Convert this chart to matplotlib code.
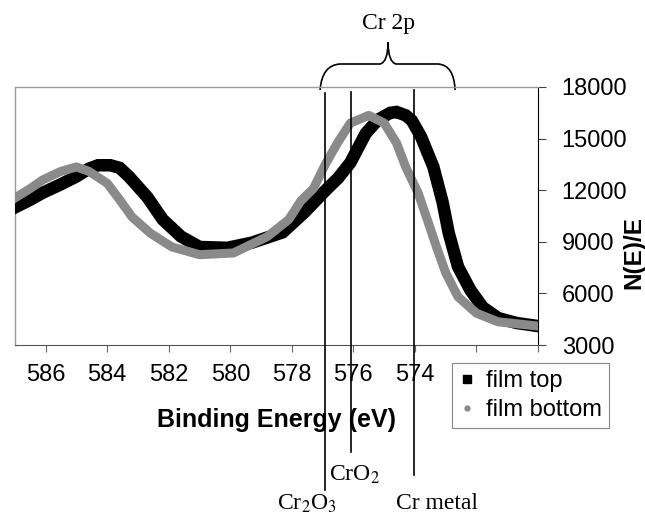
import numpy as np
import matplotlib
matplotlib.use('Agg')
import matplotlib.pyplot as plt
from matplotlib.lines import Line2D
from matplotlib.path import Path
from matplotlib.patches import PathPatch
import matplotlib.transforms as mtransforms

plt.rcParams['font.family'] = ['Liberation Sans', 'DejaVu Sans']
plt.rcParams['mathtext.fontset'] = 'stix'

# film top (black squares)
top_energy = [587.0, 586.5, 586.1, 585.5, 585.0, 584.6, 584.3, 583.9, 583.6, 583.3,
              583.0, 582.7, 582.2, 581.6, 581.0, 580.1, 579.3, 578.3, 577.6, 576.9,
              576.5, 576.1, 575.6, 575.2, 574.8, 574.6, 574.3, 574.1, 573.8, 573.4,
              573.1, 572.9, 572.6, 572.2, 571.8, 571.3, 570.7, 570.0]
top_counts = [11000, 11450, 11850, 12350, 12800, 13250, 13450, 13450, 13300, 12800,
              12200, 11600, 10300, 9300, 8700, 8650, 8950, 9550, 10700, 12000,
              12700, 13600, 15300, 16100, 16500, 16550, 16350, 16050, 15100, 13350,
              11300, 9500, 7550, 6200, 5200, 4570, 4280, 4100]

# film bottom (grey dots)
bottom_energy = [587.0, 586.5, 586.1, 585.5, 585.0, 584.6, 584.0, 583.6, 583.2, 582.6,
                 581.9, 581.0, 579.9, 578.8, 578.1, 577.7, 577.3, 576.9, 576.5, 576.1,
                 575.5, 575.0, 574.6, 574.3, 573.9, 573.6, 573.3, 573.0, 572.6, 572.0,
                 571.3, 570.0]
bottom_counts = [11550, 12100, 12600, 13100, 13350, 13100, 12400, 11450, 10450, 9500,
                 8700, 8250, 8350, 9300, 10300, 11400, 12100, 13550, 14800, 15900,
                 16350, 15900, 14750, 13350, 11850, 10300, 8700, 7200, 5800, 4850,
                 4350, 4100]

x_ticks = [586, 584, 582, 580, 578, 576, 574, 572, 570]
x_labels = ['586', '584', '582', '580', '578', '576', '574', '', '']  # last two sit under the legend
y_ticks = [3000, 6000, 9000, 12000, 15000, 18000]

# reference lines for the chemical states
ref_names = ['Cr$_2$O$_3$', 'CrO$_2$', 'Cr metal']
ref_energy = [576.92, 576.08, 574.03]

fig = plt.figure(figsize=(6.45, 5.16), dpi=100)
ax = fig.add_axes([15 / 645, 1 - 345 / 516, 523 / 645, 258 / 516])

ax.plot(top_energy, top_counts, color='black', lw=9, solid_joinstyle='miter', zorder=3)
ax.plot(bottom_energy, bottom_counts, color='#8a8a8a', lw=6.5, zorder=4)

ax.set_xlim(587, 570)
ax.set_ylim(3000, 18000)
ax.set_xticks(x_ticks)
ax.set_xticklabels(x_labels)
ax.set_yticks(y_ticks)
ax.yaxis.tick_right()
ax.tick_params(axis='x', direction='out', length=5, color='#666666', pad=9, labelsize=17)
ax.tick_params(axis='y', direction='out', length=6, color='#444444', pad=11, labelsize=17)

for side in ['left', 'top']:
    ax.spines[side].set_color('#9a9a9a')
    ax.spines[side].set_linestyle((0, (1, 1)))
    ax.spines[side].set_linewidth(1.0)
ax.spines['bottom'].set_color('#555555')
ax.spines['right'].set_color('black')

ax.set_xlabel('Binding Energy (eV)', fontsize=18, fontweight='bold')
ax.xaxis.set_label_coords(0.5, -0.245)
ax.yaxis.set_label_position('right')
ax.set_ylabel('N(E)/E', fontsize=17.5, fontweight='bold', rotation=90)
ax.yaxis.set_label_coords(1.183, 0.36)
ax.yaxis.label.set_verticalalignment('center')

# vertical marker lines running past the axes
trans = mtransforms.blended_transform_factory(ax.transData, ax.transAxes)
line_bottom = [-0.562, -0.415, -0.504]
line_top = [0.977, 0.98, 0.988]
for e, lo, hi in zip(ref_energy, line_bottom, line_top):
    ax.plot([e, e], [lo, hi], color='black', lw=1.2, transform=trans, clip_on=False, zorder=5)

serif = 'Liberation Serif'
ax.text(ref_energy[0] + 0.6, -0.615, ref_names[0], transform=trans, ha='center', va='center',
        fontsize=17, family=serif)
ax.text(ref_energy[1] - 0.1, -0.505, ref_names[1], transform=trans, ha='center', va='center',
        fontsize=17, family=serif)
ax.text(ref_energy[2] + 0.6, -0.615, ref_names[2], transform=trans, ha='left', va='center',
        fontsize=17, family=serif)

# brace over the Cr 2p region
def px(xp):
    return 587 - (xp - 15) / 30.76

def py(yp):
    return (345 - yp) / 258

brace = [(320, 90), (322, 65), (340, 64), (380, 64), (388, 62), (388, 42),
         (388, 62), (396, 64), (438, 64), (454, 65), (455, 90)]
codes = [Path.MOVETO, Path.CURVE3, Path.CURVE3, Path.LINETO, Path.CURVE3, Path.CURVE3,
         Path.CURVE3, Path.CURVE3, Path.LINETO, Path.CURVE3, Path.CURVE3]
verts = [(px(a), py(b)) for a, b in brace]
ax.add_patch(PathPatch(Path(verts, codes), fill=False, lw=1.2, color='black',
                       transform=trans, clip_on=False))
ax.text(px(388), py(23), 'Cr 2p', transform=trans, ha='center', va='center',
        fontsize=17, family=serif)

handles = [Line2D([], [], ls='none', marker='s', ms=5.5, color='black'),
           Line2D([], [], ls='none', marker='o', ms=3.5, color='#8a8a8a')]
leg = fig.legend(handles, ['film top', 'film bottom'], loc='upper left',
                 bbox_to_anchor=(452 / 645, 1 - 363 / 516), fontsize=17,
                 frameon=True, fancybox=False, edgecolor='#888888', framealpha=1,
                 handlelength=0.7, handletextpad=0.45, borderpad=0.3,
                 labelspacing=0.3, borderaxespad=0)
leg.get_frame().set_linewidth(0.8)

fig.savefig('out.png', dpi=100)
